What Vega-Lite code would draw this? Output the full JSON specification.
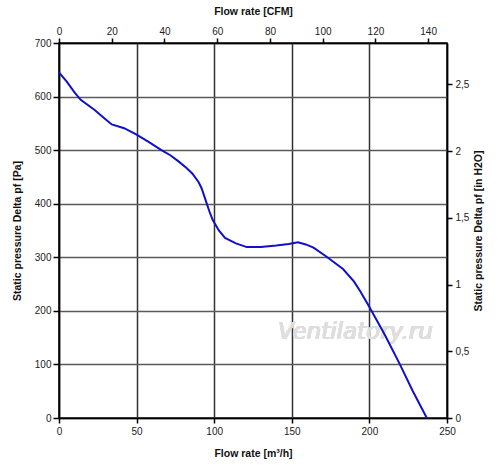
{
  "$schema": "https://vega.github.io/schema/vega-lite/v6.json",
  "width": 388,
  "height": 375,
  "autosize": "none",
  "padding": {"left": 59, "top": 43, "right": 53, "bottom": 50},
  "background": "white",
  "config": {
    "font": "Liberation Sans",
    "view": {"stroke": "black", "strokeWidth": 1.5},
    "axis": {
      "labelFont": "Liberation Sans",
      "labelFontSize": 10,
      "labelColor": "#222222",
      "titleFont": "Liberation Sans",
      "titleFontSize": 10.5,
      "titleFontWeight": "bold",
      "titleColor": "#111111",
      "domainColor": "black",
      "domainWidth": 1.5,
      "tickColor": "black",
      "tickWidth": 1.5,
      "tickSize": 5,
      "labelOverlap": false,
      "labelFlush": false,
      "labelBound": false
    }
  },
  "data": {
    "values": [
      {"q": 0, "p": 645},
      {"q": 5, "p": 628},
      {"q": 10, "p": 608},
      {"q": 14, "p": 594},
      {"q": 23, "p": 575},
      {"q": 29, "p": 560},
      {"q": 34, "p": 548},
      {"q": 42, "p": 541},
      {"q": 50, "p": 529},
      {"q": 58, "p": 515},
      {"q": 66, "p": 500},
      {"q": 72, "p": 490},
      {"q": 77, "p": 479},
      {"q": 82, "p": 467},
      {"q": 86, "p": 456},
      {"q": 90, "p": 440},
      {"q": 92, "p": 428},
      {"q": 95, "p": 402},
      {"q": 97, "p": 385},
      {"q": 99, "p": 370},
      {"q": 103, "p": 350},
      {"q": 107, "p": 336},
      {"q": 114, "p": 326},
      {"q": 121, "p": 319},
      {"q": 130, "p": 319},
      {"q": 140, "p": 322},
      {"q": 148, "p": 325},
      {"q": 154, "p": 328},
      {"q": 159, "p": 324},
      {"q": 164, "p": 318},
      {"q": 172, "p": 302},
      {"q": 183, "p": 278},
      {"q": 190, "p": 255},
      {"q": 194, "p": 237},
      {"q": 200, "p": 207},
      {"q": 210, "p": 155},
      {"q": 219.5, "p": 101},
      {"q": 228, "p": 50},
      {"q": 237, "p": 0}
    ]
  },
  "layer": [
    {
      "mark": {"type": "point", "opacity": 0},
      "encoding": {
        "x": {
          "datum": 0,
          "type": "quantitative",
          "scale": {"domain": [0, 147.15], "nice": false, "zero": false},
          "axis": {
            "orient": "top",
            "values": [0, 20, 40, 60, 80, 100, 120, 140],
            "grid": false,
            "title": "Flow rate [CFM]",
            "labelPadding": 2,
            "titlePadding": 10
          }
        },
        "y": {
          "datum": 0,
          "type": "quantitative",
          "scale": {"domain": [0, 2.8103], "nice": false, "zero": false},
          "axis": {
            "orient": "right",
            "values": [0, 0.5, 1, 1.5, 2, 2.5],
            "labelExpr": "replace(toString(datum.value), '.', ',')",
            "grid": false,
            "title": "Static pressure Delta pf [in H2O]",
            "titleAngle": 270,
            "titleBaseline": "bottom",
            "labelPadding": 3,
            "titlePadding": 15
          }
        }
      }
    },
    {
      "layer": [
        {
          "mark": {
            "type": "text",
            "text": "Ventilatory.ru",
            "font": "DejaVu Sans",
            "fontSize": 23,
            "fontStyle": "italic",
            "color": "#dedede",
            "align": "center",
            "baseline": "middle"
          },
          "encoding": {
            "x": {"datum": 191, "type": "quantitative"},
            "y": {"datum": 160, "type": "quantitative"}
          }
        },
        {
          "mark": {"type": "line", "color": "#1010c8", "strokeWidth": 2},
          "encoding": {}
        }
      ],
      "encoding": {
        "x": {
          "field": "q",
          "type": "quantitative",
          "scale": {"domain": [0, 250], "nice": false},
          "axis": {
            "orient": "bottom",
            "values": [0, 50, 100, 150, 200, 250],
            "grid": true,
            "gridColor": "#333333",
            "gridWidth": 1.5,
            "title": "Flow rate [m³/h]",
            "labelPadding": 3,
            "titlePadding": 12
          }
        },
        "y": {
          "field": "p",
          "type": "quantitative",
          "scale": {"domain": [0, 700], "nice": false},
          "axis": {
            "orient": "left",
            "values": [0, 100, 200, 300, 400, 500, 600, 700],
            "grid": true,
            "gridColor": "#5a5a5a",
            "gridWidth": 1.5,
            "tickSize": 6,
            "title": "Static pressure Delta pf [Pa]",
            "labelPadding": 2,
            "titlePadding": 12
          }
        }
      }
    }
  ],
  "resolve": {"scale": {"x": "independent", "y": "independent"}}
}
